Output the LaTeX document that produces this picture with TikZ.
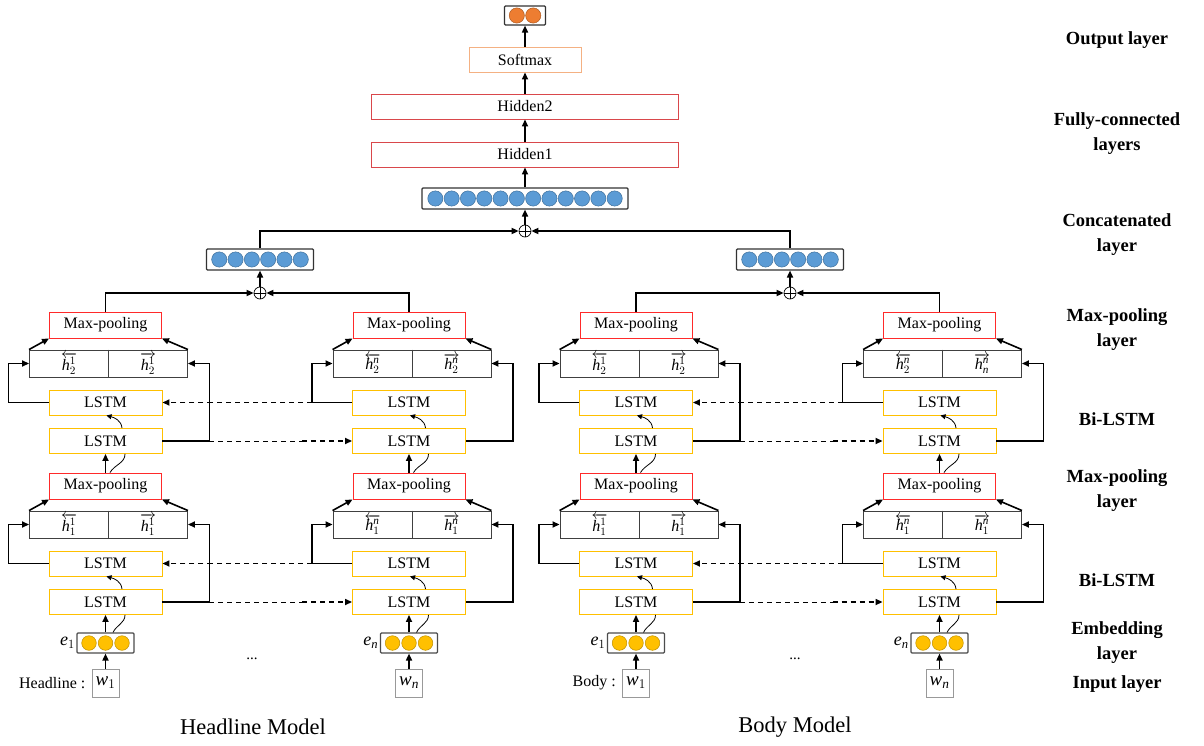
\RequirePackage{fix-cm}
\documentclass[tikz,border=0pt]{standalone}
\usepackage{fontspec}
\setmainfont{Liberation Serif}
\DeclareSymbolFont{letters}{TU}{\rmdefault}{m}{it}
\usetikzlibrary{arrows.meta,calc}
\definecolor{lstmc}{HTML}{FFC000}
\definecolor{mpc}{HTML}{FF2A2A}
\definecolor{hidc}{HTML}{D9474B}
\definecolor{smc}{HTML}{F4B183}
\definecolor{bluef}{HTML}{5B9BD5}
\definecolor{bluel}{HTML}{41719C}
\definecolor{yelf}{HTML}{FFC000}
\definecolor{yell}{HTML}{BF9000}
\definecolor{oraf}{HTML}{ED7D31}
\definecolor{oral}{HTML}{AE5A21}
\newcommand\fsz[1]{\fontsize{#1}{#1}\selectfont}
\tikzset{
  x=1pt, y=-1pt,
  box/.style={draw, line width=0.9pt, inner sep=0pt, align=center},
  lstmbox/.style={box, draw=lstmc, minimum width=113pt, minimum height=25pt, font=\fsz{16}},
  mpbox/.style={box, draw=mpc, minimum width=112pt, minimum height=26pt, font=\fsz{16}},
  hbox/.style={box, draw=black!75, minimum width=158pt, minimum height=27pt},
  hlab/.style={inner sep=0pt, font=\fsz{16}},
  embbox/.style={box, draw=black!70, line width=1.1pt, rounded corners=1pt, minimum width=57pt, minimum height=20pt},
  wbox/.style={box, draw=black!40, minimum width=27pt, minimum height=28pt, font=\fsz{19}},
  vecbox/.style={box, draw=black!80, line width=1.1pt, rounded corners=1pt, minimum height=21pt},
  hidbox/.style={box, draw=hidc, minimum width=307pt, minimum height=25pt, font=\fsz{16}},
  smbox/.style={box, draw=smc, minimum width=112pt, minimum height=25pt, font=\fsz{16}},
  outbox/.style={box, draw=black!80, line width=1.1pt, rounded corners=1pt, minimum width=41pt, minimum height=19pt},
  plusnode/.style={circle, draw, line width=0.7pt, minimum size=12pt, inner sep=0pt},
  arr/.style={line width=1.6pt, -{Triangle[length=7pt,width=6pt]}},
  thinc/.style={line width=0.8pt},
  carr/.style={line width=0.8pt, -{Triangle[length=5pt,width=5pt]}},
  dthin/.style={line width=0.9pt, dash pattern=on 5pt off 4pt},
  darr/.style={line width=1.6pt, dash pattern=on 5pt off 4pt, -{Triangle[length=7pt,width=6pt]}},
  ycirc/.style={fill=yelf, draw=yell, line width=0.5pt},
  bcirc/.style={fill=bluef, draw=bluel, line width=0.5pt},
  ocirc/.style={fill=oraf, draw=oral, line width=0.5pt},
  rlab/.style={align=center, font=\fsz{18.5}\bfseries, inner sep=0pt},
}
\newcommand\hl[2]{$\overleftarrow{h_{#1}^{#2}}$}
\newcommand\hr[2]{$\overrightarrow{h_{#1}^{#2}}$}
% #1 name, #2 cx, #3 #4 upper h labels, #5 #6 lower h labels
\newcommand\bicol[6]{%
  \node[mpbox] (#1MPa) at (#2,325) {Max-pooling};
  \node[hbox] (#1Ha) at (#2+3,363.5) {};
  \draw[line width=0.9pt, black!75] (#1Ha.north) -- (#1Ha.south);
  \node[hlab] (#1Hal) at (#2+3-39.5,363.5) {#3};
  \node[hlab] (#1Har) at (#2+3+39.5,363.5) {#4};
  \node[lstmbox] (#1Lba) at (#2,402.5) {LSTM};
  \node[lstmbox] (#1Lfa) at (#2,441) {LSTM};
  \node[mpbox] (#1MPb) at (#2,486) {Max-pooling};
  \node[hbox] (#1Hb) at (#2+3,524.5) {};
  \draw[line width=0.9pt, black!75] (#1Hb.north) -- (#1Hb.south);
  \node[hlab] (#1Hbl) at (#2+3-39.5,524.5) {#5};
  \node[hlab] (#1Hbr) at (#2+3+39.5,524.5) {#6};
  \node[lstmbox] (#1Lbb) at (#2,563.5) {LSTM};
  \node[lstmbox] (#1Lfb) at (#2,602) {LSTM};
  \node[embbox] (#1E) at (#2,643) {};
  \foreach \k in {0,1,2} \draw[ycirc] (#2-16.5+\k*16.5,643) circle[radius=7.3pt];
  % lower bi-lstm
  \draw[arr] (#1E.north) -- (#1Lfb.south);
  \draw[thinc] ([xshift=7.5pt]#1E.north) to[out=65,in=-90] ([xshift=19.5pt]#1Lfb.south);
  \draw[carr] ([xshift=16.5pt]#1Lfb.north) to[out=95,in=-15] ([xshift=1pt]#1Lbb.south);
  \draw[arr] (#1Lbb.west) -- ++(-40,0) |- (#1Hb.west);
  \draw[arr] (#1Lfb.east) -- ++(47,0) |- (#1Hb.east);
  \draw[arr] (#1Hb.north west) -- (#1MPb.south west);
  \draw[arr] (#1Hb.north east) -- (#1MPb.south east);
  % upper bi-lstm
  \draw[arr] (#1MPb.north) -- (#1Lfa.south);
  \draw[thinc] ([xshift=4.5pt]#1MPb.north) to[out=60,in=-90] ([xshift=19.5pt]#1Lfa.south);
  \draw[carr] ([xshift=16.5pt]#1Lfa.north) to[out=95,in=-15] ([xshift=1pt]#1Lba.south);
  \draw[arr] (#1Lba.west) -- ++(-40,0) |- (#1Ha.west);
  \draw[arr] (#1Lfa.east) -- ++(47,0) |- (#1Ha.east);
  \draw[arr] (#1Ha.north west) -- (#1MPa.south west);
  \draw[arr] (#1Ha.north east) -- (#1MPa.south east);
}
% dashed links between two columns #1 (first) and #2 (last)
\newcommand\dlinks[2]{%
  \draw[dthin] ([xshift=47pt]#1Lfb.east) -- ([xshift=-50pt]#2Lfb.west);
  \draw[darr] ([xshift=-50pt]#2Lfb.west) -- (#2Lfb.west);
  \draw[dthin] ([xshift=-40pt]#2Lbb.west) -- ([xshift=50pt]#1Lbb.east);
  \draw[darr] ([xshift=50pt]#1Lbb.east) -- (#1Lbb.east);
  \draw[dthin] ([xshift=47pt]#1Lfa.east) -- ([xshift=-50pt]#2Lfa.west);
  \draw[darr] ([xshift=-50pt]#2Lfa.west) -- (#2Lfa.west);
  \draw[dthin] ([xshift=-40pt]#2Lba.west) -- ([xshift=50pt]#1Lba.east);
  \draw[darr] ([xshift=50pt]#1Lba.east) -- (#1Lba.east);
}
\begin{document}
\begin{tikzpicture}
\useasboundingbox[fill=white] (0,0) rectangle (1204,746);

\bicol{ha}{105.5}{\hl21}{\hr21}{\hl11}{\hr11}
\bicol{hb}{409}{\hl2n}{\hr2n}{\hl1n}{\hr1n}
\bicol{ba}{636}{\hl21}{\hr21}{\hl11}{\hr11}
\bicol{bb}{939.5}{\hl2n}{\hr{n}{n}}{\hl1n}{\hr1n}
\dlinks{ha}{hb}
\dlinks{ba}{bb}

% inputs
\node[wbox] (haW) at (105.5,683) {$w_1$};
\node[wbox] (hbW) at (409,683) {$w_n$};
\node[wbox] (baW) at (636,683) {$w_1$};
\node[wbox] (bbW) at (939.5,683) {$w_n$};
\foreach \c in {ha,hb,ba,bb} \draw[arr] (\c W.north) -- (\c E.south);
\node[font=\fsz{18}, anchor=east, inner sep=1.5pt] (haEl) at (haE.west) {$e_1$};
\node[font=\fsz{18}, anchor=east, inner sep=1.5pt] (hbEl) at (hbE.west) {$e_n$};
\node[font=\fsz{18}, anchor=east, inner sep=1.5pt] (baEl) at (baE.west) {$e_1$};
\node[font=\fsz{18}, anchor=east, inner sep=1.5pt] (bbEl) at (bbE.west) {$e_n$};
\node[font=\fsz{16}, anchor=east, inner sep=0pt] (hlab) at ([xshift=-6pt]haW.west) {Headline :};
\node[font=\fsz{16}, anchor=east, inner sep=0pt] (blab) at ([xshift=-6pt]baW.west) {Body :};
\node[font=\fsz{15}] (hdots) at (252,659) {...};
\node[font=\fsz{15}] (bdots) at (795,659) {...};
\node[font=\fsz{22.5}] (htitle) at (253,727) {Headline Model};
\node[font=\fsz{22.5}] (btitle) at (795,727) {Body Model};

% concatenation
\node[vecbox, minimum width=107pt] (HC) at (260,259.5) {};
\foreach \k in {0,...,5} \draw[bcirc] (260-40.75+\k*16.3,259.5) circle[radius=7.6pt];
\node[vecbox, minimum width=107pt] (BC) at (790,259.5) {};
\foreach \k in {0,...,5} \draw[bcirc] (790-40.75+\k*16.3,259.5) circle[radius=7.6pt];
\node[plusnode] (HP) at (260,293) {};
\node[plusnode] (BP) at (790,293) {};
\node[plusnode] (TP) at (525,231) {};
\foreach \p in {HP,BP,TP} \draw[line width=0.7pt] (\p.north) -- (\p.south) (\p.west) -- (\p.east);
\draw[arr] (haMPa.north) |- (HP.west);
\draw[arr] (hbMPa.north) |- (HP.east);
\draw[arr] (baMPa.north) |- (BP.west);
\draw[arr] (bbMPa.north) |- (BP.east);
\draw[arr] (HP.north) -- (HC.south);
\draw[arr] (BP.north) -- (BC.south);
\draw[arr] (HC.north) |- (TP.west);
\draw[arr] (BC.north) |- (TP.east);
\node[vecbox, minimum width=206pt] (CC) at (525,198.5) {};
\foreach \k in {0,...,11} \draw[bcirc] (525-89.65+\k*16.3,198.5) circle[radius=7.6pt];
\draw[arr] (TP.north) -- (CC.south);

% fully connected
\node[hidbox] (H1) at (525,154.5) {Hidden1};
\node[hidbox] (H2) at (525,106.5) {Hidden2};
\node[smbox] (SM) at (525,59.5) {Softmax};
\node[outbox] (OUT) at (525,15.5) {};
\foreach \k in {0,1} \draw[ocirc] (525-8.2+\k*16.4,15.5) circle[radius=7.6pt];
\draw[arr] (CC.north) -- (H1.south);
\draw[arr] (H1.north) -- (H2.south);
\draw[arr] (H2.north) -- (SM.south);
\draw[arr] (SM.north) -- (OUT.south);

% layer labels
\node[rlab] (l1) at (1117,40) {Output layer};
\node[rlab] (l2) at (1117,134) {Fully-connected\\[6.5pt]layers};
\node[rlab] (l3) at (1117,235) {Concatenated\\[6.5pt]layer};
\node[rlab] (l4) at (1117,330) {Max-pooling\\[6.5pt]layer};
\node[rlab] (l5) at (1117,419) {Bi-LSTM};
\node[rlab] (l6) at (1117,491) {Max-pooling\\[6.5pt]layer};
\node[rlab] (l7) at (1117,580) {Bi-LSTM};
\node[rlab] (l8) at (1117,643) {Embedding\\[6.5pt]layer};
\node[rlab] (l9) at (1117,684) {Input layer};
\end{tikzpicture}
\end{document}
